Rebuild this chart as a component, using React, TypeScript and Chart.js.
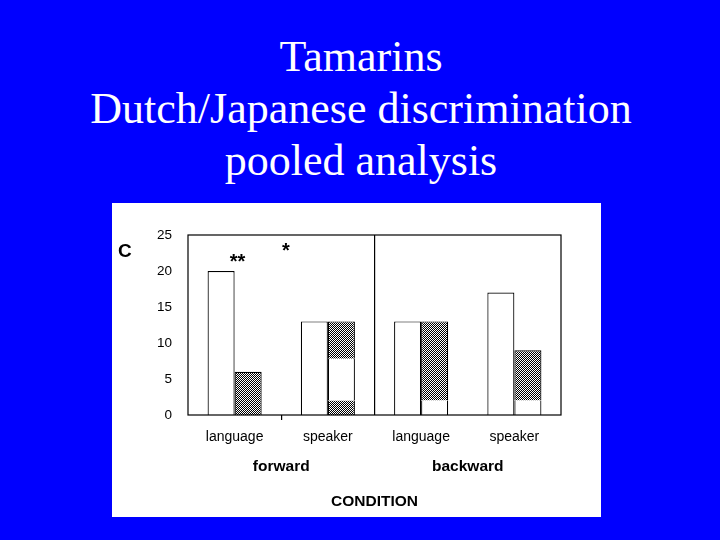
import React, { useEffect, useRef } from "react";
import { Chart, registerables } from "chart.js";

Chart.register(...registerables);

// categories and groups on the x axis
const categories = ["language", "speaker", "language", "speaker"];
const groups = ["forward", "backward"];
const axisTitle = "CONDITION";

// white bars (left bar of each pair)
const whiteBars = [20, 13, 13, 17];
// right bar of each pair, stacked from the bottom up
const hatchLow = [6, 2, 0, 0];
const whiteMid = [0, 5.8, 2, 2];
const hatchHigh = [0, 5.2, 11, 7];

const yTicks = [0, 5, 10, 15, 20, 25];

const SANS = '"Liberation Sans", Arial, sans-serif';
const LINE = 1.2;

const stackB = [hatchLow, whiteMid, hatchHigh];

const isTopSegment = (k: number, i: number) =>
  stackB.slice(k + 1).every((arr) => !arr[i]);

const segBorder = (k: number) => (c: any) => ({
  top: isTopSegment(k, c.dataIndex) ? LINE : 0,
  left: LINE,
  right: LINE,
  bottom: 0,
});

const annotations = {
  id: "annotations",
  afterDatasetsDraw(chart: any) {
    const { ctx, chartArea: a, scales } = chart;
    ctx.save();
    ctx.strokeStyle = "#000";
    ctx.lineWidth = LINE;
    ctx.strokeRect(a.left, a.top, a.right - a.left, a.bottom - a.top);
    // significance marks
    ctx.fillStyle = "#000";
    ctx.font = `bold 20px ${SANS}`;
    ctx.textAlign = "center";
    ctx.textBaseline = "alphabetic";
    ctx.fillText("**", scales.x.getPixelForValue(0.03), scales.y.getPixelForValue(20.4));
    ctx.fillText("*", scales.x.getPixelForValue(0.55), scales.y.getPixelForValue(21.9));
    ctx.restore();
  },
};

const TamarinChart: React.FC = () => {
  const canvasRef = useRef<HTMLCanvasElement>(null);
  const chartRef = useRef<Chart>();

  useEffect(() => {
    if (!canvasRef.current) return;
    const ctx = canvasRef.current.getContext("2d");
    if (!ctx) return;

    // 1px checkerboard fill
    const pc = document.createElement("canvas");
    pc.width = 2;
    pc.height = 2;
    const p = pc.getContext("2d")!;
    p.fillStyle = "#fff";
    p.fillRect(0, 0, 2, 2);
    p.fillStyle = "#000";
    p.fillRect(0, 0, 1, 1);
    p.fillRect(1, 1, 1, 1);
    const hatch = ctx.createPattern(pc, "repeat");

    const nz = (arr: number[]) => arr.map((v) => (v ? v : null));

    chartRef.current = new Chart(ctx, {
      type: "bar",
      data: {
        labels: categories,
        datasets: [
          {
            label: "white",
            data: whiteBars,
            stack: "a",
            backgroundColor: "#fff",
            borderColor: "#000",
            borderWidth: LINE,
          },
          {
            label: "hatch low",
            data: nz(hatchLow),
            stack: "b",
            backgroundColor: hatch as any,
            borderColor: "#000",
            borderWidth: segBorder(0) as any,
          },
          {
            label: "white mid",
            data: nz(whiteMid),
            stack: "b",
            backgroundColor: "#fff",
            borderColor: "#000",
            borderWidth: segBorder(1) as any,
          },
          {
            label: "hatch high",
            data: nz(hatchHigh),
            stack: "b",
            backgroundColor: hatch as any,
            borderColor: "#000",
            borderWidth: segBorder(2) as any,
          },
        ],
      },
      options: {
        animation: false,
        responsive: false,
        categoryPercentage: 0.58,
        barPercentage: 1,
        layout: { padding: { top: 32, right: 40, left: 0, bottom: 0 } },
        plugins: {
          legend: { display: false },
          tooltip: { enabled: false },
        },
        scales: {
          x: {
            type: "category",
            position: "bottom",
            weight: 0,
            offset: true,
            grid: {
              offset: true,
              drawOnChartArea: true,
              drawTicks: true,
              tickLength: 5,
              lineWidth: LINE,
              tickWidth: LINE,
              color: (c: any) => (c.index === 2 ? "#000" : "rgba(0,0,0,0)"),
              tickColor: (c: any) => (c.index === 1 ? "#000" : "rgba(0,0,0,0)"),
            },
            border: { display: false },
            ticks: {
              color: "#000",
              font: { family: SANS, size: 14 },
              padding: 9,
              maxRotation: 0,
              autoSkip: false,
            },
            afterFit: (s: any) => {
              s.height = 30;
            },
          },
          x2: {
            type: "category",
            labels: groups,
            position: "bottom",
            weight: 1,
            offset: true,
            grid: { display: false, drawTicks: false },
            border: { display: false },
            ticks: {
              color: "#000",
              font: { family: SANS, size: 15.5, weight: "bold" },
              padding: 12,
              maxRotation: 0,
            },
            title: {
              display: true,
              text: axisTitle,
              color: "#000",
              font: { family: SANS, size: 15.5, weight: "bold" },
              padding: { top: 6, bottom: 6 },
            },
            afterFit: (s: any) => {
              s.height = 72;
            },
          },
          y: {
            min: 0,
            max: 25,
            stacked: true,
            grid: { display: false, drawTicks: false },
            border: { display: false },
            ticks: {
              color: "#000",
              font: { family: SANS, size: 13.5 },
              padding: 16,
            },
            afterBuildTicks: (s: any) => {
              s.ticks = yTicks.map((v) => ({ value: v }));
            },
            afterFit: (s: any) => {
              s.width = 76;
            },
          },
        },
      } as any,
      plugins: [annotations],
    });

    return () => {
      if (chartRef.current) {
        chartRef.current.destroy();
      }
    };
  }, []);

  return (
    <canvas
      ref={canvasRef}
      width={489}
      height={314}
      style={{ display: "block", width: 489, height: 314 }}
    />
  );
};

export default function App() {
  return (
    <div
      style={{
        position: "absolute",
        left: 0,
        top: 0,
        width: 720,
        height: 540,
        background: "#0000ff",
        overflow: "hidden",
      }}
    >
      <div
        style={{
          position: "absolute",
          left: 0,
          top: 31,
          width: 722,
          textAlign: "center",
          color: "#fff",
          fontFamily: '"Liberation Serif", "Times New Roman", serif',
          fontSize: 44,
          lineHeight: "52px",
        }}
      >
        Tamarins
        <br />
        Dutch/Japanese discrimination
        <br />
        pooled analysis
      </div>
      <div
        style={{
          position: "absolute",
          left: 112,
          top: 203,
          width: 489,
          height: 314,
          background: "#fff",
        }}
      >
        <TamarinChart />
        <div
          style={{
            position: "absolute",
            left: 6,
            top: 38,
            fontFamily: SANS,
            fontWeight: "bold",
            fontSize: 19,
            lineHeight: "19px",
            color: "#000",
          }}
        >
          C
        </div>
      </div>
    </div>
  );
}
